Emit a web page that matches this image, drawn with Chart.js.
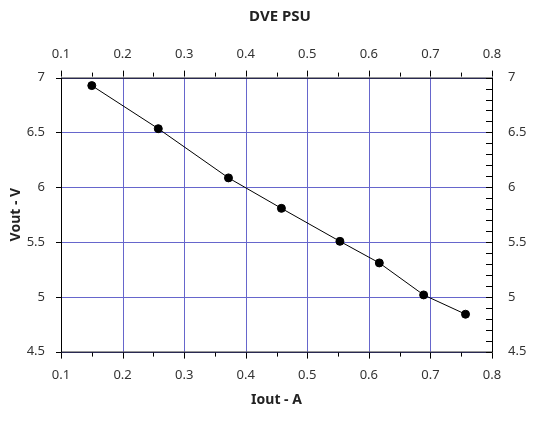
<!DOCTYPE html>
<html>
<head>
<meta charset="utf-8">
<script src="https://cdn.jsdelivr.net/npm/chart.js@4/dist/chart.umd.min.js"></script>
<style>
  html, body { margin: 0; padding: 0; background: #fff; }
  #wrap { width: 552px; height: 422px; }
</style>
</head>
<body>
<div id="wrap"><canvas id="chart"></canvas></div>
<script>
// Data
const iout = [0.150, 0.258, 0.372, 0.458, 0.553, 0.617, 0.689, 0.757];
const vout = [6.927, 6.534, 6.085, 5.807, 5.506, 5.309, 5.017, 4.841];
const xTicks = [0.1, 0.2, 0.3, 0.4, 0.5, 0.6, 0.7, 0.8];
const yTicks = [4.5, 5, 5.5, 6, 6.5, 7];

const font = { family: "'Noto Sans', sans-serif", size: 13 };
const gridBlue = '#6666cc';

// grid, small inward minor ticks and frame
const minorTicks = {
    id: 'minorTicks',
    beforeDatasetsDraw(chart) {
        const { ctx, chartArea: a } = chart;
        const xs = chart.scales.x, ys = chart.scales.y;
        ctx.save();
        ctx.strokeStyle = gridBlue;
        ctx.lineWidth = 1;
        ctx.beginPath();
        xTicks.forEach(v => {
            const px = Math.round(xs.getPixelForValue(v)) + 0.5;
            ctx.moveTo(px, a.top); ctx.lineTo(px, a.bottom);
        });
        yTicks.forEach(v => {
            const py = Math.round(ys.getPixelForValue(v)) + 0.5;
            ctx.moveTo(a.left, py); ctx.lineTo(a.right, py);
        });
        ctx.stroke();
        ctx.restore();
    },
    afterDraw(chart) {
        const { ctx, chartArea: a } = chart;
        const xs = chart.scales.x, ys = chart.scales.y;
        ctx.save();
        ctx.strokeStyle = '#000';
        ctx.lineWidth = 1;
        ctx.beginPath();
        for (let i = 0; i <= 14; i++) {
            const v = 0.1 + i * 0.05;
            const px = Math.round(xs.getPixelForValue(v)) + 0.5;
            const len = i % 2 === 0 ? 7 : 5;
            ctx.moveTo(px, a.top - 1); ctx.lineTo(px, a.top - len);
            ctx.moveTo(px, a.bottom + 1); ctx.lineTo(px, a.bottom + len);
        }
        for (let i = 0; i <= 25; i++) {
            const v = 4.5 + i * 0.1;
            const py = Math.round(ys.getPixelForValue(v)) + 0.5;
            ctx.moveTo(a.right, py); ctx.lineTo(a.right - 6, py);
            if (i % 5 === 0) { ctx.moveTo(a.left, py); ctx.lineTo(a.left - 5, py); }
        }
        ctx.stroke();
        ctx.strokeRect(a.left + 0.5, a.top + 0.5, a.right - a.left, a.bottom - a.top);
        ctx.restore();
    }
};

const xAxis = (pos, title) => ({
    type: 'linear', position: pos, min: 0.1, max: 0.8,
    afterBuildTicks: s => { s.ticks = xTicks.map(v => ({ value: v })); },
    ticks: { color: '#333', font, padding: 8, callback: v => String(Math.round(v * 10) / 10) },
    grid: { display: false },
    border: { display: false },
    title: title ? { display: true, text: title, color: '#222', font: { ...font, size: 14, weight: 'bold' }, padding: 0 } : { display: false }
});
const yAxis = (pos, title) => ({
    type: 'linear', position: pos, min: 4.5, max: 7,
    afterBuildTicks: s => { s.ticks = yTicks.map(v => ({ value: v })); },
    ticks: { color: '#333', font, padding: 8, callback: v => String(v) },
    grid: { display: false },
    border: { display: false },
    afterFit: s => { s.width = pos === 'left' ? 53 : 60; },
    title: title ? { display: true, text: title, color: '#222', font: { ...font, size: 14, weight: 'bold' }, padding: 0 } : { display: false }
});

new Chart(document.getElementById('chart'), {
    type: 'scatter',
    data: {
        datasets: [{
            data: iout.map((x, i) => ({ x, y: vout[i] })),
            showLine: true,
            borderColor: '#000',
            borderWidth: 1,
            backgroundColor: '#000',
            pointRadius: 4,
            pointHoverRadius: 4
        }]
    },
    options: {
        responsive: true,
        maintainAspectRatio: false,
        animation: false,
        layout: { padding: { left: 8, right: 0, top: 6, bottom: 14 } },
        plugins: {
            legend: { display: false },
            tooltip: { enabled: false },
            title: { display: true, text: 'DVE PSU', color: '#222', font: { ...font, size: 15, weight: 'bold' }, padding: { top: 2, bottom: 12 } }
        },
        scales: {
            x: xAxis('bottom', 'Iout - A'),
            x2: xAxis('top'),
            y: yAxis('left', 'Vout - V'),
            y2: yAxis('right')
        }
    },
    plugins: [minorTicks]
});
</script>
</body>
</html>
